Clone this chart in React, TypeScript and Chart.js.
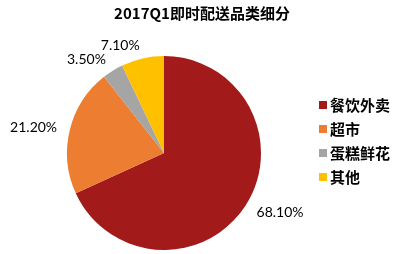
import React, { useEffect, useRef } from "react";
import { Chart, registerables } from "chart.js";

Chart.register(...registerables);

const categories = ["餐饮外卖", "超市", "蛋糕鲜花", "其他"];
const shares = [68.1, 21.2, 3.5, 7.1];
const colors = ["#A21A1A", "#ED7D31", "#A5A5A5", "#FFC000"];
const titleText = "2017Q1即时配送品类细分";

const overlayPlugin = {
  id: "overlay",
  afterDraw(chart: any) {
    const ctx = chart.ctx;
    ctx.save();
    // title
    ctx.fillStyle = "#000";
    ctx.font = "bold 15px 'Noto Sans CJK SC'";
    ctx.textAlign = "center";
    ctx.textBaseline = "middle";
    ctx.fillText(titleText, 202, 13);

    // data labels
    const meta = chart.getDatasetMeta(0);
    ctx.font = "14px Lato";
    meta.data.forEach((arc: any, i: number) => {
      const p = arc.getProps(["x", "y", "startAngle", "endAngle", "outerRadius"], true);
      const mid = (p.startAngle + p.endAngle) / 2;
      const d = p.outerRadius + 13;
      const x = p.x + Math.cos(mid) * d;
      const y = p.y + Math.sin(mid) * d;
      ctx.textAlign = Math.cos(mid) >= 0 ? "left" : "right";
      ctx.textBaseline = "middle";
      ctx.fillStyle = "#000";
      ctx.fillText(shares[i].toFixed(2) + "%", x, y);
    });

    // legend
    ctx.font = "bold 15px 'Noto Sans CJK SC'";
    ctx.textAlign = "left";
    ctx.textBaseline = "middle";
    categories.forEach((c, i) => {
      const y = 105 + i * 24;
      ctx.fillStyle = colors[i];
      ctx.fillRect(319, y - 4, 8, 8);
      ctx.fillStyle = "#000";
      ctx.fillText(c, 330, y);
    });
    ctx.restore();
  },
};

export default function App() {
  const ref = useRef<HTMLCanvasElement>(null);
  useEffect(() => {
    document.body.style.margin = "0";
    const chart = new Chart(ref.current!, {
      type: "pie",
      data: {
        labels: categories,
        datasets: [
          {
            data: shares,
            backgroundColor: colors,
            borderWidth: 0,
          },
        ],
      },
      options: {
        responsive: false,
        animation: false,
        layout: { padding: { left: 67, right: 148, top: 56, bottom: 4 } },
        plugins: {
          legend: { display: false },
          title: { display: false },
          tooltip: { enabled: false },
        },
      },
      plugins: [overlayPlugin],
    });
    return () => chart.destroy();
  }, []);
  return (
    <div style={{ width: 409, height: 254, background: "#fff" }}>
      <canvas ref={ref} width={409} height={254} />
    </div>
  );
}
